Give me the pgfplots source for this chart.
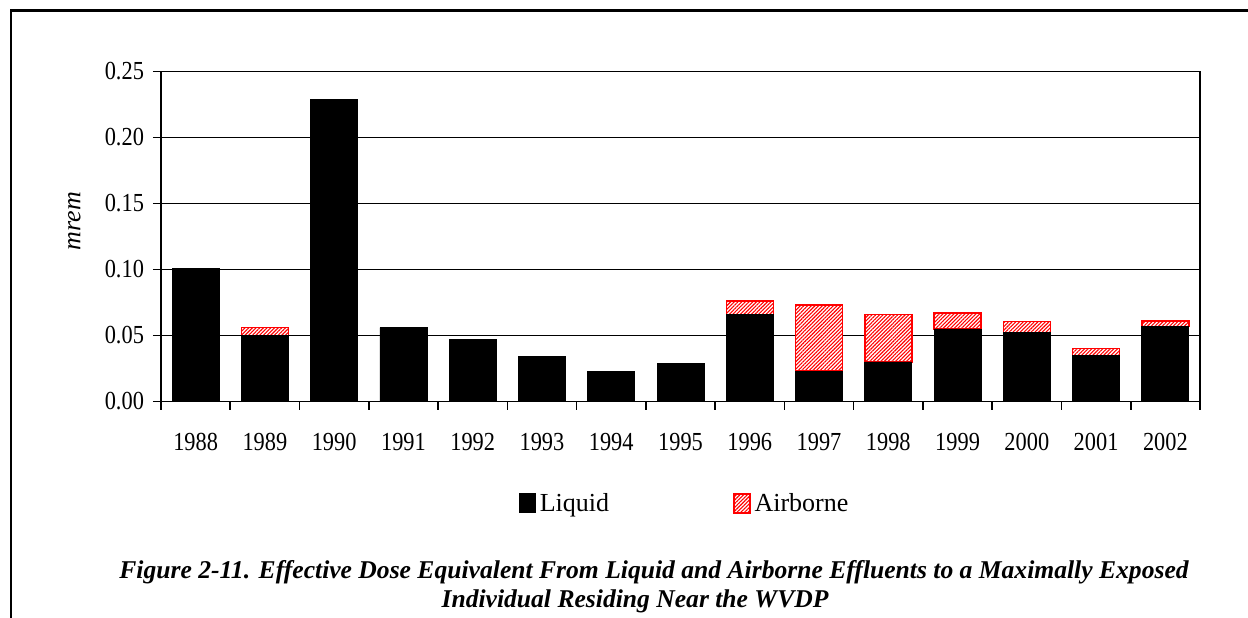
\documentclass[border=0pt]{standalone}
\usepackage{pgfplots}
\pgfplotsset{compat=1.18}
\usepackage{fontspec}
\setmainfont{Liberation Serif}
\newfontfamily\tickfont[FakeStretch=0.86]{Liberation Serif}
\usetikzlibrary{patterns.meta}

\definecolor{hatchred}{RGB}{255,0,0}

\begin{document}
\begin{tikzpicture}
% 1 px of the reference = 0.5pt, origin at the lower left corner of the axis box
\useasboundingbox (-80.5pt,-107.75pt) rectangle (543.5pt,200.75pt);
\draw[line width=1.1pt] (-75pt,-110pt) -- (-75pt,195.5pt) -- (550pt,195.5pt);

\begin{axis}[
	at={(0pt,0pt)}, anchor=south west,
	scale only axis,
	width=519.5pt, height=165pt,
	ybar stacked,
	bar width=23.5pt,
	xmin=-0.5, xmax=14.5,
	ymin=0, ymax=0.25,
	xtick={0,...,14},
	xticklabels={1988,1989,1990,1991,1992,1993,1994,1995,1996,1997,1998,1999,2000,2001,2002},
	minor xtick={-0.5,0.5,...,14.5},
	ytick={0,0.05,...,0.25},
	xtick pos=bottom, ytick pos=left,
	major x tick style={draw=none},
	tick align=outside,
	major tick length=4pt,
	minor tick length=4pt,
	tick style={black, line width=0.8pt},
	axis line style={line width=0.9pt},
	ymajorgrids,
	grid style={black, line width=0.75pt},
	/pgf/number format/assume math mode=true,
	yticklabel style={/pgf/number format/fixed, /pgf/number format/fixed zerofill,
		/pgf/number format/precision=2, xshift=-1pt},
	tick label style={font=\tickfont\fontsize{13}{15}\selectfont},
	xticklabel style={yshift=-8.5pt},
	ylabel={\textit{mrem}},
	ylabel style={at={(axis description cs:-0.0833,0.547)}, anchor=center,
		font=\fontsize{13}{15}\selectfont},
	legend columns=2,
	legend style={at={(axis description cs:0.505,-0.31)}, anchor=center,
		draw=none, font=\fontsize{13}{15}\selectfont,
		/tikz/every even column/.append style={column sep=60pt}},
	legend image code/.code={\draw[#1] (0pt,-4.5pt) rectangle (8pt,5pt);},
]
% Liquid
\addplot[fill=black, draw=black] coordinates {
	(0,0.101) (1,0.050) (2,0.229) (3,0.056) (4,0.047) (5,0.034) (6,0.023)
	(7,0.029) (8,0.066) (9,0.023) (10,0.030) (11,0.055) (12,0.052) (13,0.035) (14,0.057)};
% Airborne
\addplot[fill=white, draw=hatchred, line width=0.75pt,
	postaction={pattern={Lines[angle=45,distance=1.3pt,line width=0.55pt]}, pattern color=hatchred}]
	coordinates {
	(0,0) (1,0.006) (2,0) (3,0) (4,0) (5,0) (6,0)
	(7,0) (8,0.010) (9,0.050) (10,0.036) (11,0.012) (12,0.0085) (13,0.0053) (14,0.004)};
\legend{Liquid,Airborne}
\end{axis}

\node[font=\fontsize{12.8}{14}\selectfont\bfseries\itshape] at (246.5pt,-85.5pt)
	{Figure 2-11. Effective Dose Equivalent From Liquid and Airborne Effluents to a Maximally Exposed};
\node[font=\fontsize{12.8}{14}\selectfont\bfseries\itshape] at (237pt,-100pt)
	{Individual Residing Near the WVDP};
\end{tikzpicture}
\end{document}
